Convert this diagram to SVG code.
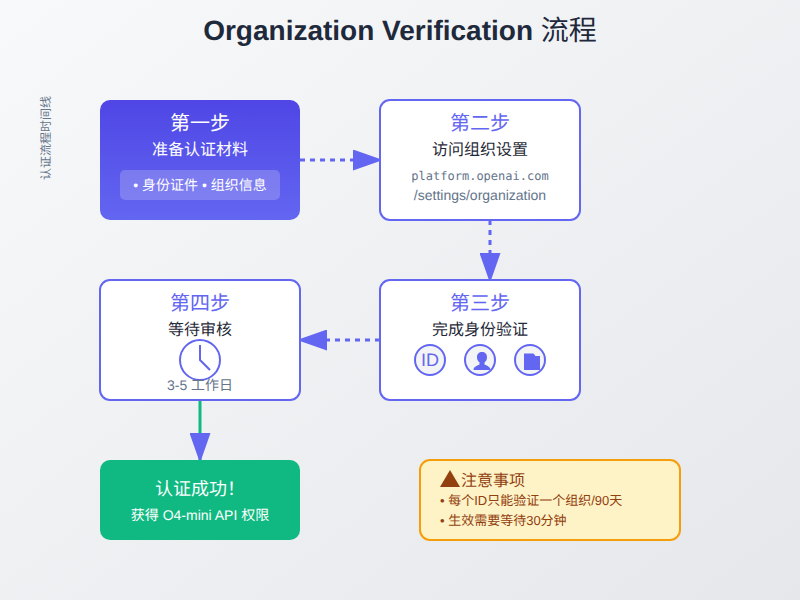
<svg xmlns="http://www.w3.org/2000/svg" width="800" height="600" viewBox="0 0 800 600">
<defs>
<linearGradient id="bg" x1="0" y1="0" x2="1" y2="1"><stop offset="0" stop-color="#f8f9fa"/><stop offset="1" stop-color="#e5e7eb"/></linearGradient>
<linearGradient id="blue" x1="0" y1="0" x2="0" y2="1"><stop offset="0" stop-color="#4f46e5"/><stop offset="1" stop-color="#6366f1"/></linearGradient>
<marker id="arrow" markerUnits="userSpaceOnUse" markerWidth="30" markerHeight="21" refX="27" refY="10.5" orient="auto"><polygon points="0 0,30 10.5,0 21" fill="#6366f1"/></marker>
</defs>
<style>
text{font-family:"Liberation Sans","Noto Sans CJK SC",Arial,sans-serif;text-anchor:middle;text-rendering:geometricPrecision}
.card{fill:#fff;stroke:#6366f1;stroke-width:2}
.step{font-size:20px;fill:#6366f1}
.sub{font-size:16px;fill:#1f2937}
.gray{fill:#64748b;font-size:14px}
.ic{fill:#f3f4f6;stroke:#6366f1;stroke-width:2}
.dash{stroke:#6366f1;stroke-width:3;fill:none;stroke-dasharray:5 5;marker-end:url(#arrow)}
.note{font-size:13px;fill:#92400e;text-anchor:start}
</style>
<rect width="800" height="600" fill="url(#bg)"/>
<text x="400" y="40" font-size="28" font-weight="700" fill="#1e293b">Organization Verification <tspan font-weight="400">流程</tspan></text>
<text transform="translate(50,138) rotate(-90)" font-size="12" fill="#64748b">认证流程时间线</text>
<g id="connectors">
<path class="dash" d="M300 160H380"/>
<path class="dash" d="M490 220V280"/>
<path class="dash" d="M380 340H300"/>
<path d="M200 400V460" fill="none" stroke="#10b981" stroke-width="3" marker-end="url(#arrow)"/>
</g>
<g id="step1">
<rect x="100" y="100" width="200" height="120" rx="10" fill="url(#blue)"/>
<text x="200" y="130" font-size="20" fill="#fff">第一步</text>
<text x="200" y="155" font-size="16" fill="#fff">准备认证材料</text>
<rect x="120" y="170" width="160" height="30" rx="5" fill="#fff" fill-opacity=".2"/>
<text x="200" y="190" font-size="14" fill="#fff">• 身份证件 • 组织信息</text>
</g>
<g id="step2">
<rect class="card" x="380" y="100" width="200" height="120" rx="10"/>
<text class="step" x="480" y="130">第二步</text>
<text class="sub" x="480" y="155">访问组织设置</text>
<text x="480" y="180" font-size="12" fill="#64748b" style="font-family:'DejaVu Sans Mono',monospace">platform.openai.com</text>
<text class="gray" x="480" y="200">/settings/organization</text>
</g>
<g id="step3">
<rect class="card" x="380" y="280" width="200" height="120" rx="10"/>
<text class="step" x="480" y="310">第三步</text>
<text class="sub" x="480" y="335">完成身份验证</text>
<circle class="ic" cx="430" cy="360" r="15"/>
<text x="430" y="366" font-size="18" fill="#6366f1">ID</text>
<circle class="ic" cx="480" cy="360" r="15"/>
<path d="M473.5 370c0-3 3-4 6-5.500v-2c-2-1.500-2.500-3.500-2.500-5.500c0-3 2-5 5-5s5 2 5 5c0 2-.5 4-2.500 5.500v2c3 1.500 6 2.500 6 5.500z" fill="#6366f1"/>
<circle class="ic" cx="530" cy="360" r="15"/>
<path d="M524 353.500h9.500l2 2.500h4.500v14h-16z" fill="#6366f1"/>
</g>
<g id="step4">
<rect class="card" x="100" y="280" width="200" height="120" rx="10"/>
<text class="step" x="200" y="310">第四步</text>
<text class="sub" x="200" y="335">等待审核</text>
<circle cx="200" cy="360" r="20" fill="#fff" stroke="#6366f1" stroke-width="2"/>
<path d="M200 345V360L210 370" fill="none" stroke="#6366f1" stroke-width="2"/>
<text class="gray" x="200" y="390">3-5 工作日</text>
</g>
<g id="success">
<rect x="100" y="460" width="200" height="80" rx="10" fill="#10b981"/>
<text x="200" y="495" font-size="18" fill="#fff">认证成功！</text>
<text x="200" y="520" font-size="14" fill="#fff">获得 O4-mini API 权限</text>
</g>
<g id="notice">
<rect x="420" y="460" width="260" height="80" rx="10" fill="#fef3c7" stroke="#f59e0b" stroke-width="2"/>
<polygon points="440,487 450,470 460,487" fill="#92400e"/>
<text class="note" x="461" y="486" style="font-size:16px">注意事项</text>
<text class="note" x="440" y="505">• 每个ID只能验证一个组织/90天</text>
<text class="note" x="440" y="525">• 生效需要等待30分钟</text>
</g>
</svg>
